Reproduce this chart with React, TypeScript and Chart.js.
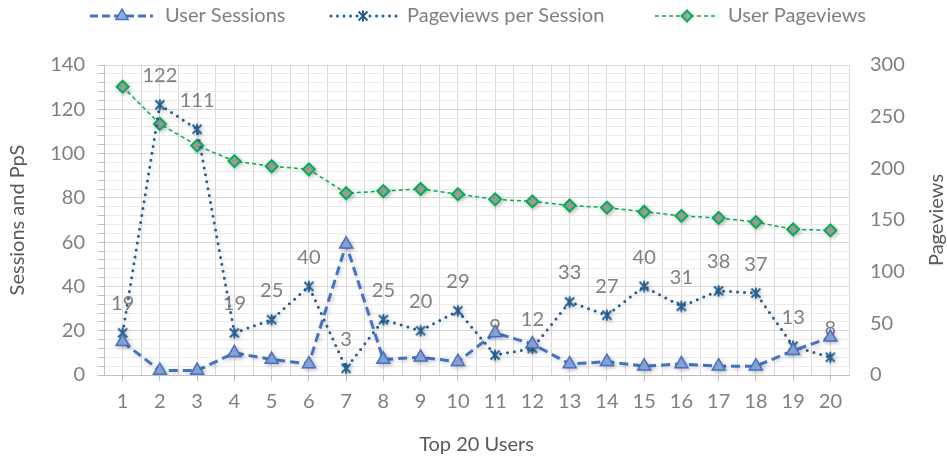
import React, { useEffect, useRef } from 'react';
import { Chart, registerables } from 'chart.js';

Chart.register(...registerables);

// ---- data ----
const users = [1, 2, 3, 4, 5, 6, 7, 8, 9, 10, 11, 12, 13, 14, 15, 16, 17, 18, 19, 20];
const userSessions = [15, 2, 2, 10, 7, 5, 59, 7, 8, 6, 19, 14, 5, 6, 4, 5, 4, 4, 11, 17];
const pageviewsPerSession = [19, 122, 111, 19, 25, 40, 3, 25, 20, 29, 9, 12, 33, 27, 40, 31, 38, 37, 13, 8];
const userPageviews = [279, 243, 222, 207, 202, 199, 176, 178, 180, 175, 170, 168, 164, 162, 158, 154, 152, 148, 141, 140];
const leftTicks = [0, 20, 40, 60, 80, 100, 120, 140];
const rightTicks = [0, 50, 100, 150, 200, 250, 300];
const seriesNames = ['User Sessions', 'Pageviews per Session', 'User Pageviews'];
const xTitle = 'Top 20 Users';
const leftTitle = 'Sessions and PpS';
const rightTitle = 'Pageviews';

// ---- style ----
const FONT = 'Lato, "Liberation Sans", sans-serif';
const SESS = '#4472C4';
const SESS_FILL = '#8FAADC';
const PPS = '#255E91';
const PV = '#00B050';
const PV_FILL = '#A5A5A5';
const TEXT = '#808080';
const TITLE = '#595959';
const MINOR_DIV = 5;

function makeStar(color: string): HTMLCanvasElement {
  const c = document.createElement('canvas');
  c.width = 14;
  c.height = 14;
  const g = c.getContext('2d')!;
  g.strokeStyle = color;
  g.lineWidth = 2;
  g.lineCap = 'butt';
  g.beginPath();
  g.moveTo(2.5, 2.5); g.lineTo(11.5, 11.5);
  g.moveTo(11.5, 2.5); g.lineTo(2.5, 11.5);
  g.moveTo(7, 1.5); g.lineTo(7, 12.5);
  g.stroke();
  return c;
}

function drawTri(ctx: CanvasRenderingContext2D, x: number, y: number, r: number) {
  ctx.beginPath();
  ctx.moveTo(x, y - r);
  ctx.lineTo(x + r * 0.866, y + r * 0.5);
  ctx.lineTo(x - r * 0.866, y + r * 0.5);
  ctx.closePath();
  ctx.fillStyle = SESS_FILL;
  ctx.fill();
  ctx.strokeStyle = SESS;
  ctx.lineWidth = 1.5;
  ctx.stroke();
}

function drawDiamond(ctx: CanvasRenderingContext2D, x: number, y: number, r: number) {
  ctx.beginPath();
  ctx.moveTo(x, y - r);
  ctx.lineTo(x + r, y);
  ctx.lineTo(x, y + r);
  ctx.lineTo(x - r, y);
  ctx.closePath();
  ctx.fillStyle = PV_FILL;
  ctx.fill();
  ctx.strokeStyle = PV;
  ctx.lineWidth = 2;
  ctx.stroke();
}

export default function App() {
  const ref = useRef<HTMLCanvasElement | null>(null);

  useEffect(() => {
    document.body.style.margin = '0';
    const canvas = ref.current;
    if (!canvas) return;
    const star = makeStar(PPS);

    const xTickValues: number[] = [];
    users.forEach((u) => { xTickValues.push(u - 0.5); xTickValues.push(u); });
    xTickValues.push(users[users.length - 1] + 0.5);

    const leftStep = (leftTicks[1] - leftTicks[0]) / MINOR_DIV;
    const leftAll: number[] = [];
    for (let v = leftTicks[0]; v <= leftTicks[leftTicks.length - 1] + 1e-9; v += leftStep) leftAll.push(Math.round(v * 100) / 100);

    const labelsPlugin = {
      id: 'ppsLabels',
      beforeDatasetDraw(chart: any, args: any) {
        if (args.index !== 0) return;
        const ctx = chart.ctx as CanvasRenderingContext2D;
        const meta = chart.getDatasetMeta(1);
        ctx.save();
        ctx.shadowColor = 'rgba(0,0,0,0)';
        ctx.fillStyle = TEXT;
        ctx.font = `20px ${FONT}`;
        ctx.textAlign = 'center';
        ctx.textBaseline = 'middle';
        meta.data.forEach((p: any, i: number) => {
          ctx.fillText(String(pageviewsPerSession[i]), p.x, p.y - 29);
        });
        ctx.restore();
      },
    };

    const shadowPlugin = {
      id: 'shadow',
      beforeDatasetDraw(chart: any) {
        const ctx = chart.ctx as CanvasRenderingContext2D;
        ctx.save();
        ctx.shadowColor = 'rgba(0,0,0,0.22)';
        ctx.shadowBlur = 4;
        ctx.shadowOffsetX = 1.5;
        ctx.shadowOffsetY = 1.5;
      },
      afterDatasetDraw(chart: any) {
        chart.ctx.restore();
      },
    };

    const legendPlugin = {
      id: 'customLegend',
      afterDraw(chart: any) {
        const ctx = chart.ctx as CanvasRenderingContext2D;
        const y = 16;
        ctx.save();
        ctx.font = `20px ${FONT}`;
        ctx.fillStyle = TEXT;
        ctx.textBaseline = 'middle';
        ctx.textAlign = 'left';
        // item 1
        ctx.strokeStyle = SESS; ctx.lineWidth = 3; ctx.setLineDash([8, 4]); ctx.lineCap = 'butt';
        ctx.beginPath(); ctx.moveTo(90, y); ctx.lineTo(153, y); ctx.stroke();
        ctx.setLineDash([]);
        drawTri(ctx, 122, y, 7);
        ctx.fillStyle = TEXT;
        ctx.fillText(seriesNames[0], 165, y);
        // item 2
        ctx.strokeStyle = PPS; ctx.lineWidth = 3; ctx.setLineDash([0, 6.5]); ctx.lineCap = 'round';
        ctx.beginPath(); ctx.moveTo(331, y); ctx.lineTo(400, y); ctx.stroke();
        ctx.setLineDash([]); ctx.lineCap = 'butt';
        ctx.drawImage(star, 363 - 7, y - 7);
        ctx.fillStyle = TEXT;
        ctx.fillText(seriesNames[1], 407, y);
        // item 3
        ctx.strokeStyle = PV; ctx.lineWidth = 1.5; ctx.setLineDash([4, 3]);
        ctx.beginPath(); ctx.moveTo(655, y); ctx.lineTo(718, y); ctx.stroke();
        ctx.setLineDash([]);
        drawDiamond(ctx, 687, y, 5.5);
        ctx.fillStyle = TEXT;
        ctx.fillText(seriesNames[2], 728, y);

        // right axis title, reading bottom-to-top
        const area = chart.chartArea;
        ctx.translate(937, (area.top + area.bottom) / 2);
        ctx.rotate(-Math.PI / 2);
        ctx.textAlign = 'center';
        ctx.fillStyle = TITLE;
        ctx.fillText(rightTitle, 0, 0);
        ctx.restore();
      },
    };

    const chart = new Chart(canvas, {
      type: 'line',
      data: {
        datasets: [
          {
            label: seriesNames[0],
            data: users.map((u, i) => ({ x: u, y: userSessions[i] })),
            yAxisID: 'y',
            borderColor: SESS,
            borderWidth: 3,
            borderDash: [9, 5],
            pointStyle: 'triangle',
            pointRadius: 7.5,
            pointBackgroundColor: SESS_FILL,
            pointBorderColor: SESS,
            pointBorderWidth: 1.5,
            tension: 0,
          },
          {
            label: seriesNames[1],
            data: users.map((u, i) => ({ x: u, y: pageviewsPerSession[i] })),
            yAxisID: 'y',
            borderColor: PPS,
            borderWidth: 3,
            borderDash: [0, 7],
            borderCapStyle: 'round',
            pointStyle: star,
            pointRadius: 7,
            tension: 0,
          },
          {
            label: seriesNames[2],
            data: users.map((u, i) => ({ x: u, y: userPageviews[i] })),
            yAxisID: 'y1',
            borderColor: PV,
            borderWidth: 1.5,
            borderDash: [4, 3],
            pointStyle: 'rectRot',
            pointRadius: 6,
            pointBackgroundColor: PV_FILL,
            pointBorderColor: PV,
            pointBorderWidth: 2,
            tension: 0,
          },
        ],
      },
      options: {
        animation: false,
        responsive: true,
        maintainAspectRatio: false,
        layout: { padding: { top: 65, left: 0, right: 0, bottom: 0 } },
        plugins: { legend: { display: false }, tooltip: { enabled: false } },
        scales: {
          x: {
            type: 'linear',
            min: users[0] - 0.5,
            max: users[users.length - 1] + 0.5,
            afterBuildTicks: (s: any) => { s.ticks = xTickValues.map((v) => ({ value: v })); },
            afterFit: (s: any) => { s.height = 87; },
            ticks: {
              autoSkip: false,
              maxRotation: 0,
              color: TEXT,
              font: { size: 20, family: FONT },
              padding: 9,
              callback: (v: any) => (Number.isInteger(v) ? String(v) : ''),
            },
            grid: {
              color: '#d9d9d9',
              tickLength: 6,
              tickColor: (c: any) => (c.tick && Number.isInteger(c.tick.value) ? '#bfbfbf' : 'rgba(0,0,0,0)'),
            },
            border: { color: '#bfbfbf' },
            title: { display: true, text: xTitle, color: TITLE, font: { size: 20, family: FONT }, padding: { top: 0, bottom: 5 } },
          },
          y: {
            position: 'left',
            min: leftTicks[0],
            max: leftTicks[leftTicks.length - 1],
            afterBuildTicks: (s: any) => { s.ticks = leftAll.map((v) => ({ value: v })); },
            afterFit: (s: any) => { s.width = 104; },
            ticks: {
              autoSkip: false,
              color: TEXT,
              font: { size: 20, family: FONT },
              padding: 13,
              callback: (v: any) => (leftTicks.includes(v) ? String(v) : ''),
            },
            grid: {
              color: (c: any) => (c.tick && leftTicks.includes(c.tick.value) ? '#d9d9d9' : '#ebebeb'),
              tickLength: 6,
              tickColor: '#bfbfbf',
            },
            border: { color: '#bfbfbf' },
            title: { display: true, text: leftTitle, color: TITLE, font: { size: 20, family: FONT }, padding: { top: 6, bottom: 0 } },
          },
          y1: {
            position: 'right',
            min: rightTicks[0],
            max: rightTicks[rightTicks.length - 1],
            afterBuildTicks: (s: any) => { s.ticks = rightTicks.map((v) => ({ value: v })); },
            afterFit: (s: any) => { s.width = 98; },
            ticks: { color: TEXT, font: { size: 20, family: FONT }, padding: 21 },
            grid: { display: false, drawTicks: false },
            border: { display: false },
            title: { display: false },
          },
        },
      } as any,
      plugins: [shadowPlugin, labelsPlugin, legendPlugin],
    });
    return () => chart.destroy();
  }, []);

  return (
    <div style={{ position: 'relative', width: 947, height: 462 }}>
      <canvas ref={ref} />
    </div>
  );
}
